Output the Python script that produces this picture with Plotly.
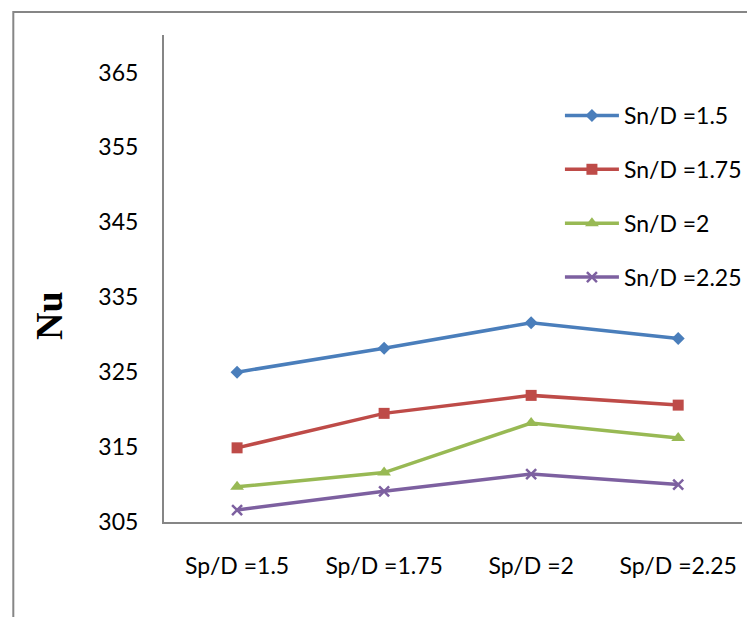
import plotly.graph_objects as go

# Spacing ratio categories on the x axis
categories = ["Sp/D =1.5", "Sp/D =1.75", "Sp/D =2", "Sp/D =2.25"]

# Nusselt number for each Sn/D series
series_names = ["Sn/D =1.5", "Sn/D =1.75", "Sn/D =2", "Sn/D =2.25"]
nu_sn_1_5 = [325.0, 328.2, 331.6, 329.5]
nu_sn_1_75 = [314.9, 319.5, 321.9, 320.6]
nu_sn_2 = [309.7, 311.6, 318.2, 316.2]
nu_sn_2_25 = [306.6, 309.1, 311.4, 310.0]

y_ticks = [305, 315, 325, 335, 345, 355, 365]

series_values = [nu_sn_1_5, nu_sn_1_75, nu_sn_2, nu_sn_2_25]
colors = ["#4A7EBB", "#BE4B48", "#98B954", "#7D60A0"]
symbols = ["diamond", "square", "triangle-up", "x-thin"]
sizes = [10, 11, 12, 10]

fig = go.Figure()
x_idx = list(range(len(categories)))
for name, vals, col, sym, sz in zip(series_names, series_values, colors, symbols, sizes):
    marker = dict(symbol=sym, size=sz, color=col)
    if sym == "x-thin":
        marker["line"] = dict(color=col, width=2.5)
    fig.add_trace(go.Scatter(
        x=x_idx, y=vals, name=name, mode="lines+markers",
        line=dict(color=col, width=3.5), marker=marker,
        legendgroup=name,
    ))

axis_grey = "#868686"
fig.update_layout(
    width=747, height=617,
    margin=dict(l=164, r=0, t=35, b=95),
    paper_bgcolor="white", plot_bgcolor="white",
    font=dict(family="Lato, Open Sans, sans-serif", size=23, color="black"),
    showlegend=True,
    legend=dict(
        x=0.685, y=0.879, xanchor="left", yanchor="top",
        bgcolor="rgba(0,0,0,0)", itemwidth=54, tracegroupgap=21,
        font=dict(size=23),
    ),
    xaxis=dict(
        range=[-0.497, 3.434], tickvals=x_idx, ticktext=categories,
        showline=True, linecolor=axis_grey, linewidth=2,
        showgrid=False, zeroline=False, ticks="", ticklabelstandoff=22,
    ),
    yaxis=dict(
        range=[305, 370], tickvals=y_ticks,
        showline=True, linecolor=axis_grey, linewidth=2,
        showgrid=False, zeroline=False, ticks="", ticklabelstandoff=19,
    ),
)

# Axis title placed beside the lower part of the value axis
fig.add_annotation(
    text="<b>Nu</b>", xref="paper", yref="paper",
    x=-116/583, y=(522 - 315) / 487, xanchor="center", yanchor="middle",
    textangle=-90, showarrow=False,
    font=dict(family="Liberation Serif, serif", size=38, color="black"),
)

# Outer chart border
fig.add_shape(type="rect", xref="paper", yref="paper",
              x0=-152/583, x1=1.2, y0=-0.3, y1=1 + 23/487,
              line=dict(color=axis_grey, width=2), layer="below")

fig.write_html("out.html")
